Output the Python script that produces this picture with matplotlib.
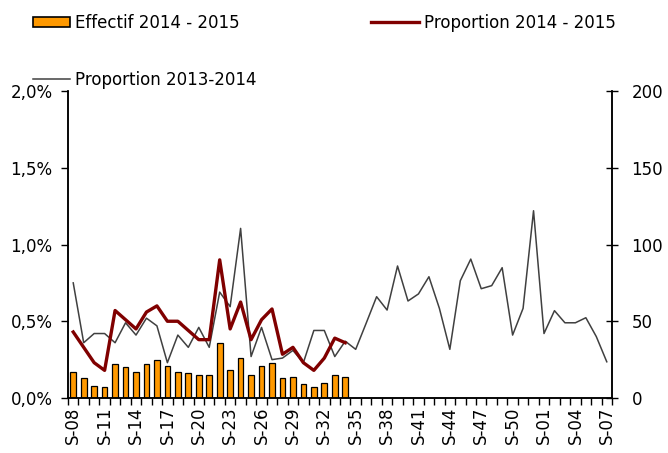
import matplotlib
matplotlib.use("Agg")
import matplotlib.pyplot as plt
from matplotlib.patches import Patch
from matplotlib.lines import Line2D
from matplotlib.ticker import FuncFormatter
import numpy as np

plt.rcParams['font.family'] = ['DejaVu Sans']
plt.rcParams['font.size'] = 12

weeks = ['S-%02d' % w for w in list(range(8, 53)) + list(range(1, 8))]

effectif_2014 = [17, 13, 8, 7, 22, 20, 17, 22, 25, 21, 17, 16, 15, 15, 36, 18, 26,
                 15, 21, 23, 13, 14, 9, 7, 10, 15, 14]

prop_2014 = [0.43, 0.33, 0.23, 0.18, 0.57, 0.51, 0.45, 0.56, 0.60, 0.50, 0.50, 0.44,
             0.38, 0.38, 0.90, 0.45, 0.625, 0.38, 0.51, 0.58, 0.285, 0.33, 0.23, 0.18,
             0.26, 0.39, 0.36]

prop_2013 = [0.75, 0.36, 0.42, 0.42, 0.36, 0.49, 0.41, 0.52, 0.47, 0.23, 0.41, 0.33,
             0.46, 0.33, 0.69, 0.595, 1.105, 0.27, 0.46, 0.25, 0.26, 0.31, 0.23, 0.44,
             0.44, 0.27, 0.37, 0.317, 0.487, 0.66, 0.573, 0.86, 0.632, 0.678, 0.79,
             0.584, 0.317, 0.764, 0.905, 0.712, 0.732, 0.849, 0.41, 0.584, 1.22, 0.42,
             0.569, 0.49, 0.49, 0.523, 0.40, 0.236]

ORANGE = '#FF9900'
DARKRED = '#800000'
GREY = '#404040'

fig = plt.figure(figsize=(6.68, 4.53), dpi=100)
ax = fig.add_axes([68/668, 1-398/453, (612-68)/668, (398-91)/453])
ax2 = ax.twinx()

x_all = np.arange(len(weeks))
ax2.bar(np.arange(len(effectif_2014)), effectif_2014, width=0.55, color=ORANGE,
        edgecolor='black', linewidth=0.9)
ax.plot(x_all, prop_2013, color=GREY, lw=1.1)
ax.plot(np.arange(len(prop_2014)), prop_2014, color=DARKRED, lw=2.4)

ax.set_zorder(ax2.get_zorder() + 1)
ax.patch.set_visible(False)

ax.set_xlim(-0.5, len(weeks) - 0.5)
ax.set_ylim(0, 2.0)
ax2.set_ylim(0, 200)

ax.set_yticks([0, 0.5, 1.0, 1.5, 2.0])
ax.yaxis.set_major_formatter(FuncFormatter(lambda v, p: ('%.1f%%' % v).replace('.', ',')))
ax2.set_yticks([0, 50, 100, 150, 200])

idx = list(range(0, len(weeks), 3))
ax.set_xticks(idx)
ax.set_xticklabels([weeks[i] for i in idx], rotation=90)
ax.set_xticks(np.arange(-0.5, len(weeks), 1.0), minor=True)
ax.tick_params(axis='x', which='major', length=0, pad=6)
ax.tick_params(axis='x', which='minor', length=5, width=1, direction='out')
ax.tick_params(axis='y', length=5, width=1, direction='out', pad=6)
ax2.tick_params(axis='y', length=8, width=1, direction='inout', pad=10)

for a in (ax, ax2):
    a.spines['top'].set_visible(False)
    for s in ('left', 'right', 'bottom'):
        a.spines[s].set_linewidth(1.1)
        a.spines[s].set_color('black')

common = dict(frameon=False, borderpad=0, borderaxespad=0, handletextpad=0.3,
              loc='center left', fontsize=12)
fig.legend(handles=[Patch(facecolor=ORANGE, edgecolor='black', linewidth=1.2)],
           labels=['Effectif 2014 - 2015'], bbox_to_anchor=(33/668, 1-23/453),
           handlelength=2.2, handleheight=0.6, **common)
fig.legend(handles=[Line2D([], [], color=DARKRED, lw=2.4)],
           labels=['Proportion 2014 - 2015'], bbox_to_anchor=(371/668, 1-23/453),
           handlelength=2.9, **common)
fig.legend(handles=[Line2D([], [], color=GREY, lw=1.1)],
           labels=['Proportion 2013-2014'], bbox_to_anchor=(33/668, 1-80/453),
           handlelength=2.2, **common)

fig.savefig('out.png', dpi=100)
